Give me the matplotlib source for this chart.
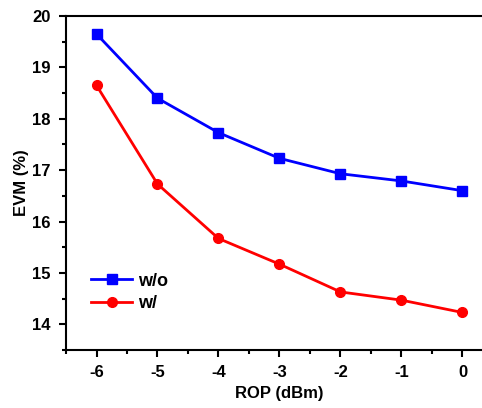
import numpy as np
import matplotlib.pyplot as plt
from matplotlib.ticker import MultipleLocator

plt.rcParams['font.family'] = ['Liberation Sans', 'DejaVu Sans']
plt.rcParams['font.weight'] = 'bold'
plt.rcParams['axes.unicode_minus'] = False

rop = [-6, -5, -4, -3, -2, -1, 0]
evm_wo = [19.65, 18.40, 17.73, 17.23, 16.93, 16.79, 16.60]
evm_w = [18.65, 16.73, 15.67, 15.17, 14.63, 14.47, 14.23]

fig = plt.figure(figsize=(4.82, 4.08), dpi=100)
ax = fig.add_axes([66 / 482, 58 / 408, 427 / 482, 334 / 408])

ax.plot(rop, evm_wo, color='#0000ff', marker='s', markersize=6.5, lw=2, label='w/o')
ax.plot(rop, evm_w, color='#ff0000', marker='o', markersize=7, lw=2, label='w/')

ax.set_xlim(-6.5, 0.5)
ax.set_ylim(13.5, 20)
ax.xaxis.set_major_locator(MultipleLocator(1))
ax.xaxis.set_minor_locator(MultipleLocator(0.5))
ax.yaxis.set_major_locator(MultipleLocator(1))
ax.yaxis.set_minor_locator(MultipleLocator(0.5))
ax.tick_params(which='major', direction='out', length=5, width=1.5, labelsize=12, pad=6)
ax.tick_params(which='minor', direction='out', length=3, width=1.5)
for s in ax.spines.values():
    s.set_linewidth(1.5)

ax.set_xlabel('ROP (dBm)', fontsize=12, fontweight='bold', labelpad=4)
ax.set_ylabel('EVM (%)', fontsize=12, fontweight='bold', labelpad=2)

ax.legend(loc='lower left', bbox_to_anchor=(0.02, 0.065), frameon=False, fontsize=13,
          handlelength=2.3, handletextpad=0.3, labelspacing=0.3)

fig.savefig('out.png', dpi=100)
